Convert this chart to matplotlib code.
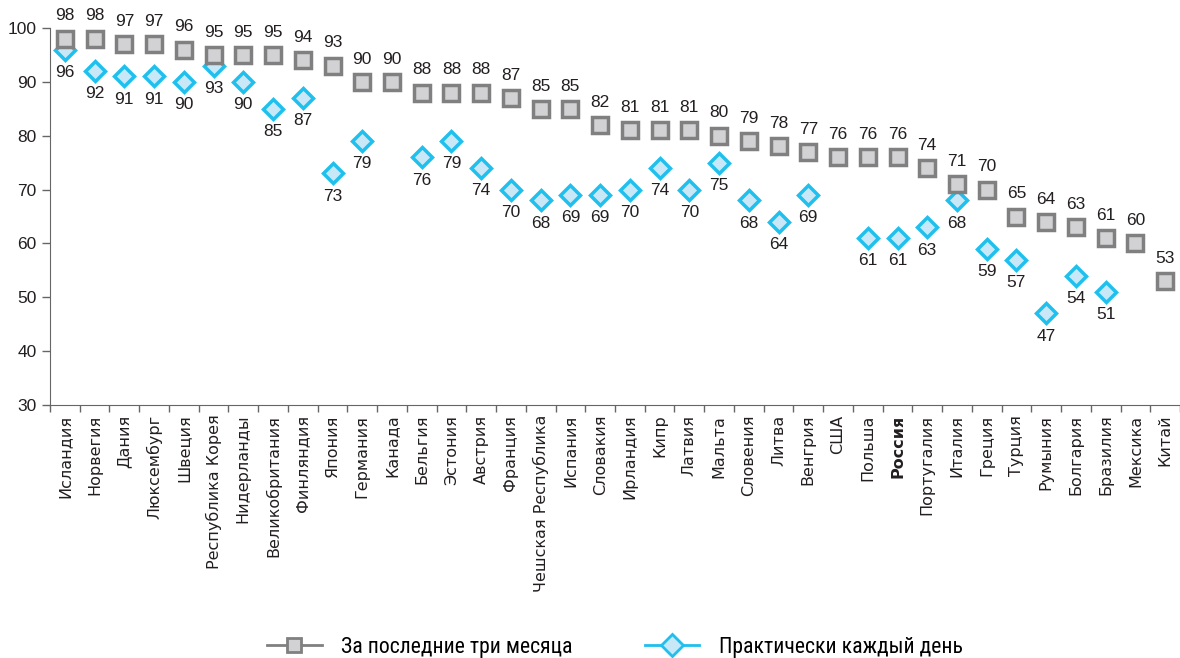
import matplotlib.pyplot as plt
from matplotlib.lines import Line2D
import numpy as np

# Страны и значения (доля пользователей интернета, %)
countries = ["Исландия", "Норвегия", "Дания", "Люксембург", "Швеция", "Республика Корея",
             "Нидерланды", "Великобритания", "Финляндия", "Япония", "Германия", "Канада",
             "Бельгия", "Эстония", "Австрия", "Франция", "Чешская Республика", "Испания",
             "Словакия", "Ирландия", "Кипр", "Латвия", "Мальта", "Словения", "Литва",
             "Венгрия", "США", "Польша", "Россия", "Португалия", "Италия", "Греция",
             "Турция", "Румыния", "Болгария", "Бразилия", "Мексика", "Китай"]
three_months = [98, 98, 97, 97, 96, 95, 95, 95, 94, 93, 90, 90, 88, 88, 88, 87, 85, 85,
                82, 81, 81, 81, 80, 79, 78, 77, 76, 76, 76, 74, 71, 70, 65, 64, 63, 61, 60, 53]
daily = [96, 92, 91, 91, 90, 93, 90, 85, 87, 73, 79, None, 76, 79, 74, 70, 68, 69,
         69, 70, 74, 70, 75, 68, 64, 69, None, 61, 61, 63, 68, 59, 57, 47, 54, 51, None, None]
legend_labels = ["За последние три месяца", "Практически каждый день"]

GRAY_FACE = "#d2d2d4"
GRAY_EDGE = "#808080"
CYAN_FACE = "#c8e8f8"
CYAN_EDGE = "#1fbfee"
TEXT = "#231f20"
NUM_FONT = ["Liberation Sans Narrow", "Liberation Sans", "DejaVu Sans"]

fig = plt.figure(figsize=(11.8, 6.58), dpi=100)
ax = fig.add_axes([50 / 1180, 1 - 405 / 658, 1130 / 1180, 377 / 658])

x = np.arange(len(countries))
d_x = [i for i, v in enumerate(daily) if v is not None]
d_y = [v for v in daily if v is not None]

ax.plot(d_x, d_y, linestyle="none", marker="D", markersize=10.5, markerfacecolor=CYAN_FACE,
        markeredgecolor=CYAN_EDGE, markeredgewidth=2.5, zorder=3, clip_on=False)
ax.plot(x, three_months, linestyle="none", marker="s", markersize=12, markerfacecolor=GRAY_FACE,
        markeredgecolor=GRAY_EDGE, markeredgewidth=2.5, zorder=4, clip_on=False)

# подписи значений
for i, v in enumerate(three_months):
    ax.annotate(str(v), (i, v), xytext=(0, 11), textcoords="offset points", ha="center",
                va="bottom", fontsize=12.5, color=TEXT, family=NUM_FONT, annotation_clip=False)
for i, v in zip(d_x, d_y):
    ax.annotate(str(v), (i, v), xytext=(0, -11), textcoords="offset points", ha="center",
                va="top", fontsize=12.5, color=TEXT, family=NUM_FONT, annotation_clip=False)

ax.set_ylim(30, 100)
ax.set_yticks(range(30, 101, 10))
ax.set_xlim(-0.5, 37.37)
ax.set_xticks(x)
ax.set_xticklabels(countries, rotation=90, fontsize=11.5, color=TEXT, family="DejaVu Sans")
ax.get_xticklabels()[countries.index("Россия")].set_fontweight("bold")
ax.set_xticks(np.arange(-0.5, len(countries), 1), minor=True)
ax.tick_params(axis="x", which="major", length=0, pad=7)
ax.tick_params(axis="x", which="minor", length=5, color="#666666", width=1)
ax.tick_params(axis="y", length=6, color="#666666", width=1, labelsize=12.5, labelcolor=TEXT)
for lab in ax.get_yticklabels():
    lab.set_family(NUM_FONT)

for s in ["top", "right"]:
    ax.spines[s].set_visible(False)
ax.spines["left"].set_color("#666666")
ax.spines["bottom"].set_color("#666666")

handles = [
    Line2D([], [], color="#808080", linewidth=2, marker="s", markersize=10,
           markerfacecolor=GRAY_FACE, markeredgecolor=GRAY_EDGE, markeredgewidth=2),
    Line2D([], [], color=CYAN_EDGE, linewidth=2, marker="D", markersize=11,
           markerfacecolor=CYAN_FACE, markeredgecolor=CYAN_EDGE, markeredgewidth=2),
]
fig.legend(handles, legend_labels, loc="center", bbox_to_anchor=(615 / 1180, 1 - 647 / 658),
           ncol=2, frameon=False, handlelength=2.5, columnspacing=3.3, handletextpad=0.9,
           prop={"family": ["Roboto Condensed", "Liberation Sans Narrow", "DejaVu Sans"], "size": 15.7})

fig.savefig("out.png", dpi=100)
